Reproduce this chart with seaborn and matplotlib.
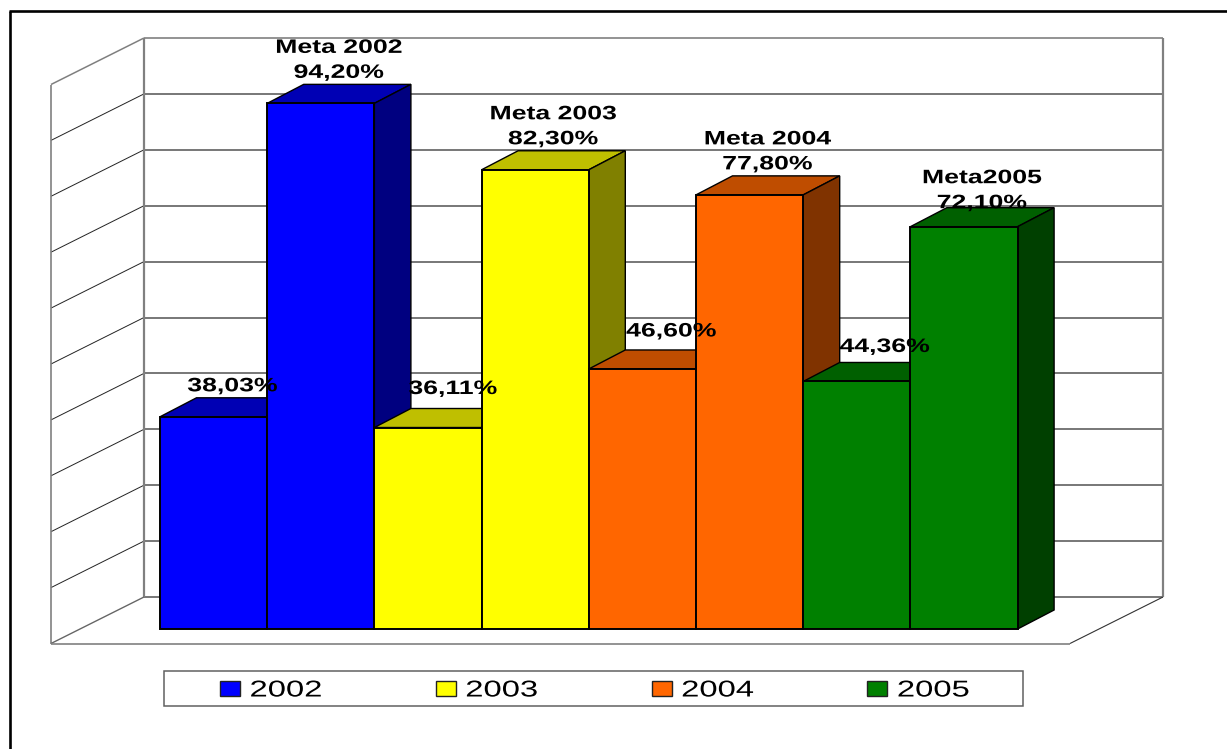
import matplotlib
matplotlib.use("Agg")
import matplotlib.pyplot as plt
import pandas as pd
import seaborn as sns
from matplotlib.patches import Patch, Polygon, Rectangle
from matplotlib.patheffects import AbstractPathEffect
from matplotlib.transforms import Affine2D

# Chart data
bar_names = ["2002", "Meta 2002", "2003", "Meta 2003", "2004", "Meta 2004", "2005", "Meta2005"]
years = ["2002", "2002", "2003", "2003", "2004", "2004", "2005", "2005"]
values = [38.03, 94.20, 36.11, 82.30, 46.60, 77.80, 44.36, 72.10]
year_levels = ["2002", "2003", "2004", "2005"]

# Face shades per year
front_colors = ["#0000FF", "#FFFF00", "#FF6600", "#008000"]
top_colors = ["#0000B4", "#BFBF00", "#BF4D00", "#006000"]
side_colors = ["#000080", "#808000", "#803300", "#004000"]

# Label offsets from each bar's top centre, in pixels
label_dx = [19, 18, 25, 18, 29, 18, 28, 18]
label_dy = [30, 30, 38, 30, 37, 30, 34, 23]

# Page geometry, in pixels from the top-left corner
W, H = 1227, 749
BAR_LEFT, BAR_STEP, BASE_Y, PX_PER_UNIT = 160.0, 107.2, 629.0, 5.58
DEPTH_X, DEPTH_Y = 36.5, 19.0
WALL_L, WALL_R, WALL_BASE = 144.0, 1163.0, 597.0
FLOOR_L, FLOOR_R, FLOOR_BASE = 51.0, 1070.0, 643.5
GRID_LEVELS = list(range(0, 101, 10))


class WideText(AbstractPathEffect):
    """Draw glyphs stretched horizontally about the text's centre or left edge."""

    def __init__(self, stretch, centered=True):
        super().__init__()
        self.stretch = stretch
        self.centered = centered

    def draw_path(self, renderer, gc, tpath, affine, rgbFace=None):
        box = tpath.get_extents()
        anchor = (box.x0 + box.x1) / 2 if self.centered else box.x0
        wide = Affine2D().translate(-anchor, 0).scale(self.stretch, 1).translate(anchor, 0)
        renderer.draw_path(gc, tpath, wide + affine, rgbFace)


sns.set_theme(style="white")
plt.rcParams["font.family"] = ["Liberation Sans", "DejaVu Sans"]

fig = plt.figure(figsize=(W / 100, H / 100), dpi=100)
ax = fig.add_axes([0, 0, 1, 1])

df = pd.DataFrame({"bar": bar_names, "year": years, "value": values})
sns.barplot(
    data=df, x="bar", y="value", hue="year", order=bar_names, hue_order=year_levels,
    palette=front_colors, saturation=1, dodge=False, width=1.0,
    edgecolor="black", linewidth=1.4, legend=False, ax=ax,
)

# Map the whole figure so one bar spans BAR_STEP pixels and one percent PX_PER_UNIT
x_left = -0.5 - BAR_LEFT / BAR_STEP
ax.set_xlim(x_left, x_left + W / BAR_STEP)
ax.set_ylim(-(H - BASE_Y) / PX_PER_UNIT, BASE_Y / PX_PER_UNIT)
ax.set_axis_off()


def X(px):
    return x_left + px / BAR_STEP


def Y(py):
    return (BASE_Y - py) / PX_PER_UNIT


def seg(x0, y0, x1, y1, color, lw, z=1):
    ax.plot([X(x0), X(x1)], [Y(y0), Y(y1)], color=color, lw=lw, zorder=z,
            solid_capstyle="butt", clip_on=False)


# Outer page frame, running off the right and bottom edges
seg(9.5, 10.5, 9.5, H, "black", 1.9)
seg(8.5, 11, W, 11, "black", 1.9)

# Back wall gridlines and matching diagonals on the left wall
for lvl in GRID_LEVELS:
    rise = lvl * 5.59
    back_color = "#808080" if lvl == 100 else "#606060"
    seg(WALL_L, WALL_BASE - rise, WALL_R, WALL_BASE - rise, back_color, 1.2)
    if 0 < lvl < 100:
        seg(FLOOR_L, FLOOR_BASE - rise, WALL_L, WALL_BASE - rise, "#222222", 0.7)
wall_top = WALL_BASE - 559
floor_top = FLOOR_BASE - 559
seg(WALL_L, wall_top, WALL_L, WALL_BASE, "#808080", 1.6)
seg(WALL_R, wall_top, WALL_R, WALL_BASE, "#808080", 1.6)
seg(FLOOR_L, floor_top, FLOOR_L, FLOOR_BASE, "#808080", 1.2)
seg(FLOOR_L, floor_top, WALL_L, wall_top, "#808080", 1.1)
seg(FLOOR_L, FLOOR_BASE, WALL_L, WALL_BASE, "#666666", 1.0)
seg(FLOOR_L, FLOOR_BASE, FLOOR_R, FLOOR_BASE, "#808080", 1.2)
seg(FLOOR_R, FLOOR_BASE, WALL_R, WALL_BASE, "#333333", 0.8)

# Extrude every bar: later bars sit in front of the side faces of earlier ones
bars = sorted(ax.patches, key=lambda p: p.get_x())
bars = [b for b in bars if b.get_height() > 0]
ddx = DEPTH_X / BAR_STEP
ddy = DEPTH_Y / PX_PER_UNIT
for i, (bar, year) in enumerate(zip(bars, years)):
    k = year_levels.index(year)
    x0, x1, top = bar.get_x(), bar.get_x() + bar.get_width(), bar.get_height()
    z = 3 + i
    bar.set_zorder(z + 0.2)
    ax.add_patch(Polygon([(x0, top), (x1, top), (x1 + ddx, top + ddy), (x0 + ddx, top + ddy)],
                         closed=True, fc=top_colors[k], ec="black", lw=1.0, zorder=z))
    ax.add_patch(Polygon([(x1, 0), (x1, top), (x1 + ddx, top + ddy), (x1 + ddx, ddy)],
                         closed=True, fc=side_colors[k], ec="black", lw=1.0, zorder=z + 0.1))

# Value labels above each bar, with the target name on its own line
label_effect = [WideText(1.37)]
for i, (bar, name, val) in enumerate(zip(bars, bar_names, values)):
    cx = bar.get_x() + bar.get_width() / 2
    text = f"{val:.2f}".replace(".", ",") + "%"
    ax.annotate(text, xy=(cx, val), xytext=(label_dx[i], label_dy[i]),
                textcoords="offset pixels", ha="center", va="center",
                fontsize=14, fontweight="bold", color="black", zorder=30,
                path_effects=label_effect)
    if name.startswith("Meta"):
        ax.annotate(name, xy=(cx, val), xytext=(label_dx[i], label_dy[i] + 25),
                    textcoords="offset pixels", ha="center", va="center",
                    fontsize=14, fontweight="bold", color="black", zorder=30,
                    path_effects=label_effect)

# Legend box and its four entries
ax.add_patch(Rectangle((X(164), Y(706)), 859 / BAR_STEP, 35 / PX_PER_UNIT,
                       fc="white", ec="#606060", lw=1.1, zorder=2))
handles = [Patch(fc=c, ec="#222222", lw=1.0, label=y) for c, y in zip(front_colors, year_levels)]
leg_size = 16.5
px_to_em = 1 / (leg_size * 100 / 72)
legend = ax.legend(
    handles=handles, ncol=4, frameon=False, fontsize=leg_size,
    loc="center left", bbox_to_anchor=(220 / W, 1 - 690 / H), bbox_transform=fig.transFigure,
    borderaxespad=0, borderpad=0,
    handlelength=20 * px_to_em, handleheight=14 * px_to_em,
    handletextpad=10 * px_to_em, columnspacing=135 * px_to_em,
)
legend.set_zorder(31)
for t in legend.get_texts():
    t.set_path_effects([WideText(1.43, centered=False)])
    t.set_color("black")

fig.savefig("out.png", dpi=100)
